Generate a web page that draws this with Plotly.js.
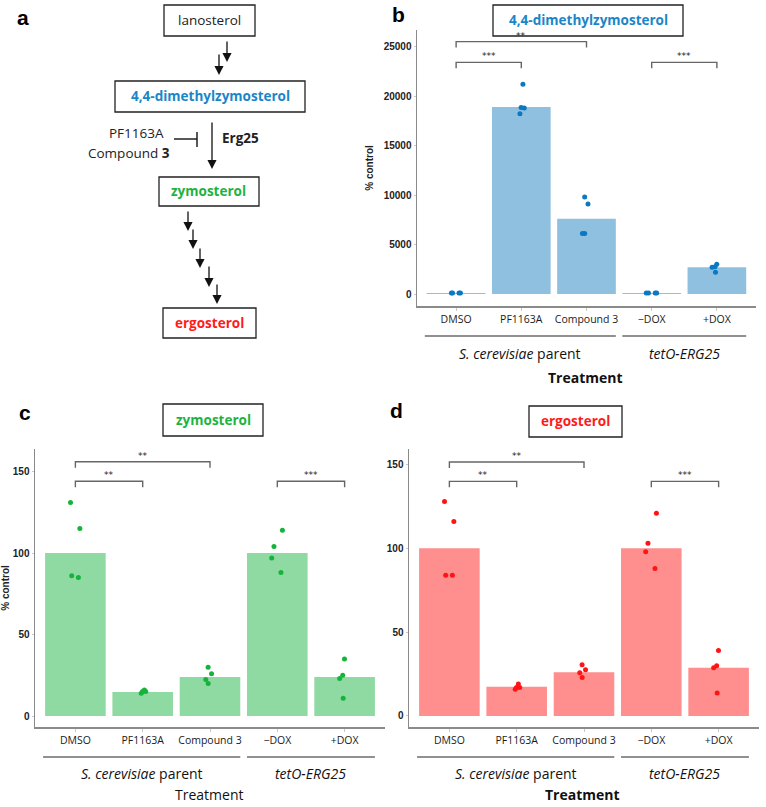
<!DOCTYPE html>
<html>
<head>
<meta charset="utf-8">
<script src="https://cdn.plot.ly/plotly-3.0.1.min.js"></script>
<style>
  html, body { margin: 0; padding: 0; background: #fff; }
  #chart { width: 766px; height: 807px; }
</style>
</head>
<body>
<div id="chart"></div>
<script>
// categories and groups
var categories = ["DMSO", "PF1163A", "Compound 3", "\u2212DOX", "+DOX"];
var groups = ["<i>S. cerevisiae</i> parent", "<i>tetO-ERG25</i>"];

// 4,4-dimethylzymosterol (% control)
var dimethylMean = [100, 18900, 7600, 100, 2700];
var dimethylPoints = [
  [100, 100, 100, 100],
  [21200, 18200, 18800, 18850],
  [9800, 9100, 6100, 6100],
  [100, 100, 100, 100],
  [3000, 2750, 2700, 2200]
];

// zymosterol (% control)
var zymoMean = [100, 14.7, 24, 100, 24];
var zymoPoints = [
  [131, 115, 85, 86],
  [14, 15, 16, 15],
  [30, 26, 22.5, 20],
  [114, 104, 97, 88],
  [35, 25, 23, 11]
];

// ergosterol (% control)
var ergoMean = [100, 17.4, 26, 100, 28.7];
var ergoPoints = [
  [128, 116, 84, 84],
  [19, 17, 16, 17],
  [30.5, 27.5, 25.7, 23],
  [121, 103, 98, 88],
  [39, 30, 28.7, 13.7]
];

// significance brackets: pairs compared, with labels and heights per panel
var bracketPairs = [[0, 1], [0, 2], [3, 4]];
var dimethylSig = ["***", "**", "***"];
var zymoSig = ["**", "**", "***"];
var ergoSig = ["**", "**", "***"];
var dimethylBracketY = [23400, 25500, 23400];
var zymoBracketY = [144, 156, 144];
var ergoBracketY = [140, 151.5, 140];

var W = 766, H = 807;
function px(x) { return x / W; }
function py(y) { return 1 - y / H; }

var FONT = "Open Sans, sans-serif";
var AXCOL = "#8a8a8a";

var data = [];
var shapes = [];
var annotations = [];

function panel(n, mean, points, sig, bracketY, legLen, barColor, dotColor) {
  var xa = n === 1 ? "x" : "x" + n;
  var ya = n === 1 ? "y" : "y" + n;
  data.push({
    type: "bar", x: [0, 1, 2, 3, 4], y: mean,
    xaxis: xa, yaxis: ya,
    marker: { color: barColor },
    hoverinfo: "skip"
  });
  var bx = [], by = [];
  points.forEach(function (arr, i) {
    arr.forEach(function (v) { bx.push(i); by.push(v); });
  });
  data.push({
    type: "box", x: bx, y: by, xaxis: xa, yaxis: ya,
    boxpoints: "all", jitter: 0.35, pointpos: 0,
    fillcolor: "rgba(0,0,0,0)",
    line: { color: "rgba(0,0,0,0)", width: 0 },
    marker: { color: dotColor, size: 5 },
    hoverinfo: "skip"
  });
  bracketPairs.forEach(function (b, i) {
    var y0 = bracketY[i];
    shapes.push({
      type: "path", xref: xa, yref: ya,
      path: "M " + b[0] + "," + (y0 - legLen) + " L " + b[0] + "," + y0 +
            " L " + b[1] + "," + y0 + " L " + b[1] + "," + (y0 - legLen),
      line: { color: "#666", width: 1.4 }
    });
    annotations.push({
      xref: xa, yref: ya, x: (b[0] + b[1]) / 2, y: y0,
      text: sig[i], showarrow: false, yanchor: "bottom", yshift: -1,
      font: { family: "DejaVu Sans, sans-serif", size: 9, color: "#222" }
    });
  });
}

panel(1, dimethylMean, dimethylPoints, dimethylSig, dimethylBracketY, 600, "#8fc0e0", "#0b78c2");
panel(2, zymoMean, zymoPoints, zymoSig, zymoBracketY, 3.7, "#8fd9a3", "#14b43c");
panel(3, ergoMean, ergoPoints, ergoSig, ergoBracketY, 3.6, "#ff8e8e", "#ff1414");

// group lines, group labels and "Treatment" under each chart
function groupLabels(xa, lineY, labY, trY, trBold) {
  var spans = [[-0.48, 2.45], [2.55, 4.45]];
  spans.forEach(function (s, i) {
    shapes.push({ type: "line", xref: xa, yref: "paper", x0: s[0], x1: s[1],
      y0: py(lineY), y1: py(lineY), line: { color: "#222", width: 1.2 } });
    annotations.push({ xref: xa, yref: "paper", x: (s[0] + s[1]) / 2, y: py(labY),
      text: groups[i], showarrow: false, yanchor: "middle",
      font: { family: FONT, size: 14, color: "#111" } });
  });
  annotations.push({ xref: xa, yref: "paper", x: 1.98, y: py(trY),
    text: "Treatment", showarrow: false, yanchor: "middle",
    font: { family: FONT, size: 14, color: "#111", weight: trBold ? "bold" : "normal" } });
}
groupLabels("x", 336, 353, 377, true);
groupLabels("x2", 757, 773, 794, false);
groupLabels("x3", 757, 773, 794, true);

// title boxes
function titleBox(x0, x1, y0, y1, text, color) {
  shapes.push({ type: "rect", xref: "paper", yref: "paper",
    x0: px(x0), x1: px(x1), y0: py(y1), y1: py(y0),
    line: { color: "#222", width: 1.3 }, fillcolor: "rgba(0,0,0,0)" });
  annotations.push({ xref: "paper", yref: "paper", x: px((x0 + x1) / 2), y: py((y0 + y1) / 2),
    text: text, showarrow: false, xanchor: "center", yanchor: "middle",
    font: { family: FONT, size: 13.5, color: color, weight: "bold" } });
}
titleBox(493, 683, 5, 36, "4,4-dimethylzymosterol", "#1a86c8");
titleBox(163, 263, 404, 436, "zymosterol", "#1db33f");
titleBox(529, 622, 406, 437, "ergosterol", "#ff1a1a");

// panel a: pathway
function box(x0, x1, y0, y1) {
  shapes.push({ type: "rect", xref: "paper", yref: "paper",
    x0: px(x0), x1: px(x1), y0: py(y1), y1: py(y0),
    line: { color: "#222", width: 1.3 }, fillcolor: "rgba(0,0,0,0)" });
}
function label(x, y, text, opts) {
  opts = opts || {};
  annotations.push({ xref: "paper", yref: "paper", x: px(x), y: py(y), text: text,
    showarrow: false, xanchor: opts.anchor || "center", yanchor: "middle",
    font: { family: opts.family || FONT, size: opts.size || 13.5,
      color: opts.color || "#222", weight: opts.weight || "normal" } });
}
function arrow(x, y0, y1) {
  annotations.push({ xref: "paper", yref: "paper", x: px(x), y: py(y1),
    ax: 0, ay: -(y1 - y0), axref: "pixel", ayref: "pixel",
    text: "", showarrow: true, arrowhead: 2, arrowsize: 1.4, arrowwidth: 1.3,
    arrowcolor: "#111", standoff: 0, startstandoff: 0 });
}
box(164, 255, 5, 36);
label(209.5, 20.5, "lanosterol");
arrow(227, 40, 62);
arrow(219, 53, 75);
box(115, 305, 81, 112);
label(210, 96.5, "4,4-dimethylzymosterol", { color: "#1a86c8", weight: "bold" });
arrow(212, 121, 169);
label(220, 138, "Erg25", { anchor: "left", weight: "bold" });
label(166, 133, "PF1163A", { anchor: "right" });
label(172, 153, "Compound <b>3</b>", { anchor: "right" });
shapes.push({ type: "line", xref: "paper", yref: "paper", x0: px(174), x1: px(197),
  y0: py(139), y1: py(139), line: { color: "#111", width: 1.4 } });
shapes.push({ type: "line", xref: "paper", yref: "paper", x0: px(197), x1: px(197),
  y0: py(132), y1: py(147), line: { color: "#111", width: 1.4 } });
box(159, 259, 177, 206);
label(209, 191.5, "zymosterol", { color: "#1db33f", weight: "bold" });
arrow(188, 210, 231);
arrow(193, 228, 249);
arrow(200, 247, 268);
arrow(209, 265, 287);
arrow(217, 283, 304);
box(163, 256, 308, 338);
label(209.5, 323, "ergosterol", { color: "#ff1a1a", weight: "bold" });

// panel letters
label(23, 17, "a", { family: "Liberation Sans, Arial", size: 21, weight: "bold", color: "#000" });
label(398, 15, "b", { family: "Liberation Sans, Arial", size: 21, weight: "bold", color: "#000" });
label(25, 412, "c", { family: "Liberation Sans, Arial", size: 21, weight: "bold", color: "#000" });
label(396, 410, "d", { family: "Liberation Sans, Arial", size: 21, weight: "bold", color: "#000" });

function xaxis(domain, anchor) {
  return {
    domain: domain, anchor: anchor, range: [-0.6, 4.6],
    tickvals: [0, 1, 2, 3, 4], ticktext: categories,
    showline: true, linecolor: AXCOL, linewidth: 1.5,
    ticks: "outside", ticklen: 3, tickcolor: "#c8c8c8",
    showgrid: false, zeroline: false, fixedrange: true,
    tickfont: { family: FONT, size: 10.5, color: "#1a1a1a" }
  };
}
function yaxis(domain, anchor, range, dtick, title) {
  return {
    domain: domain, anchor: anchor, range: range, dtick: dtick, tickformat: "d",
    showline: true, linecolor: AXCOL, linewidth: 1.5,
    ticks: "outside", ticklen: 2, tickcolor: "#c8c8c8",
    showgrid: false, zeroline: false, fixedrange: true,
    tickfont: { family: "Liberation Sans, Arial", size: 10, color: "#222", weight: "bold" },
    title: { text: title, standoff: 8,
      font: { family: "Liberation Sans, Arial", size: 10, color: "#222", weight: "bold" } }
  };
}

var layout = {
  width: W, height: H,
  margin: { l: 0, r: 0, t: 0, b: 0 },
  paper_bgcolor: "#fff", plot_bgcolor: "#fff",
  showlegend: false, bargap: 0.1, boxmode: "overlay",
  xaxis: xaxis([px(417), px(756)], "y"),
  yaxis: yaxis([py(306), py(30)], "x", [-1212, 26670], 5000, "% control"),
  xaxis2: xaxis([px(35), px(385)], "y2"),
  yaxis2: yaxis([py(727), py(449)], "x2", [-6.7, 163.8], 50, "% control"),
  xaxis3: xaxis([px(409), px(759)], "y3"),
  yaxis3: yaxis([py(727), py(449)], "x3", [-6.6, 159.3], 50, ""),
  shapes: shapes,
  annotations: annotations
};

Plotly.newPlot("chart", data, layout, { displayModeBar: false, staticPlot: true });
</script>
</body>
</html>
